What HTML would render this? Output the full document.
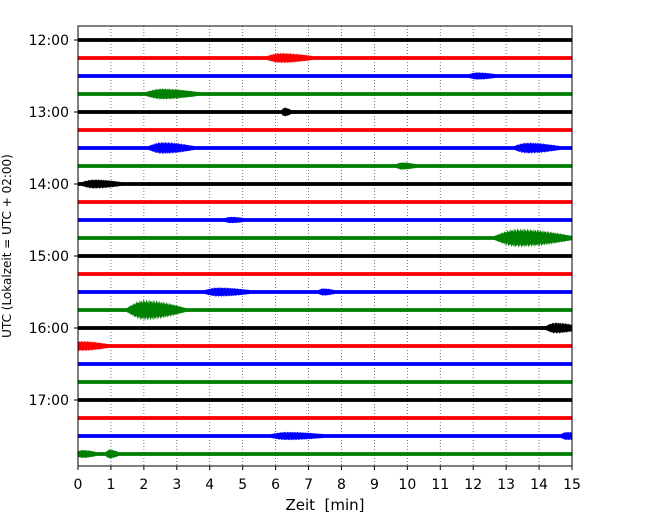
<!DOCTYPE html>
<html><head><meta charset="utf-8"><style>
body{margin:0;background:#fff;}
svg{display:block;font-family:"DejaVu Sans","Liberation Sans",sans-serif;}
</style></head><body>
<svg id="chart" width="650" height="520" viewBox="0 0 650 520">
<rect width="650" height="520" fill="#fff"/>
<g id="grid"></g>
<g id="traces"></g>
<rect x="78" y="26" width="494" height="440" fill="none" stroke="#000" stroke-width="1"/>
<g id="axes"></g>
<text x="325" y="510" font-size="15" text-anchor="middle" xml:space="preserve">Zeit  [min]</text>
<text transform="translate(11,246) rotate(-90)" font-size="12" text-anchor="middle">UTC (Lokalzeit = UTC + 02:00)</text>
</svg>
<script>
const xTicks=[0,1,2,3,4,5,6,7,8,9,10,11,12,13,14,15];
const yTickLabels=["12:00","13:00","14:00","15:00","16:00","17:00"];
const rowCount=24;
const colors=["#000000","#ff0000","#0000ff","#008000"];
// events: row index, center minute, half amplitude (trace units), duration minutes
const evRow=[1,2,3,4,6,6,7,8,10,11,14,14,15,16,17,22,22,23,23];
const evMin=[6.3,12.2,2.7,6.3,2.7,13.8,9.9,0.6,4.7,13.6,4.4,7.5,2.2,14.6,0.2,6.5,14.9,0.2,1.0];
const evAmp=[3.5,2,4,3,4.5,4,2,3,1.5,8,3,2,9,4,3.5,2.5,2.5,2.5,3];
const evDur=[1.4,0.8,1.6,0.3,1.4,1.4,0.6,1.2,0.6,2.4,1.4,0.5,1.8,1.0,1.2,1.6,0.6,0.6,0.4];
const ns="http://www.w3.org/2000/svg";
const x0=78,x1=572,yTop=40,rowH=18;
const xs=m=>x0+(m-0)/(15-0)*(x1-x0);
const ys=r=>yTop+r*rowH;
const grid=document.getElementById('grid'),tr=document.getElementById('traces'),ax=document.getElementById('axes');
function mk(tag,attrs,parent){const e=document.createElementNS(ns,tag);for(const k in attrs)e.setAttribute(k,attrs[k]);parent.appendChild(e);return e;}
xTicks.forEach(t=>{
  if(t>0&&t<15){const l=mk('line',{x1:xs(t),x2:xs(t),y1:26,y2:466,stroke:'#555','stroke-width':0.8,'stroke-dasharray':'1,2'},grid);
  
  }
  const tk=mk('line',{x1:xs(t),x2:xs(t),y1:466,y2:470,stroke:'#000'},ax);
  
  
  const tx=mk('text',{x:xs(t),y:489,'font-size':14,'text-anchor':'middle'},ax);tx.textContent=t;
  
  
});
yTickLabels.forEach((lab,i)=>{
  const y=ys(i*4);
  const tk=mk('line',{x1:74,x2:78,y1:y,y2:y,stroke:'#000'},ax);
  
  
  const tx=mk('text',{x:69,y:y+5,'font-size':14,'text-anchor':'end'},ax);tx.textContent=lab;
  
  
});
for(let r=0;r<rowCount;r++){
  const c=colors[r%4];
  const l=mk('rect',{x:x0,y:ys(r)-1.9,width:x1-x0,height:3.8,fill:c},tr);
  
  
}
const jagPattern=[1,0.6,0.9,0.5,1,0.7,0.8,0.55];
evRow.forEach((r,i)=>{
  const c=colors[r%4],cy=ys(r),a=evAmp[i],d=evDur[i],m=evMin[i];
  const s=Math.max(0,m-d*0.4),e=Math.min(15,m+d*0.6);
  const top=[],bot=[];const n=Math.max(12,Math.round((e-s)*40));
  for(let k=0;k<=n;k++){
    const t=s+(e-s)*k/n;
    const u=(t-(m-d*0.4))/d;
    let env=u<0.3?Math.sin(u/0.3*Math.PI/2):Math.max(0,Math.cos((u-0.3)/0.7*Math.PI/2));
    const h=1.9+a*env*jagPattern[k%8];
    const h2=1.9+a*env*jagPattern[(k+3)%8];
    top.push(xs(t).toFixed(1)+','+(cy-h).toFixed(1));
    bot.unshift(xs(t).toFixed(1)+','+(cy+h2).toFixed(1));
  }
  const p=mk('polygon',{points:top.concat(bot).join(' '),fill:c},tr);
  
  
});
</script>
</body></html>
